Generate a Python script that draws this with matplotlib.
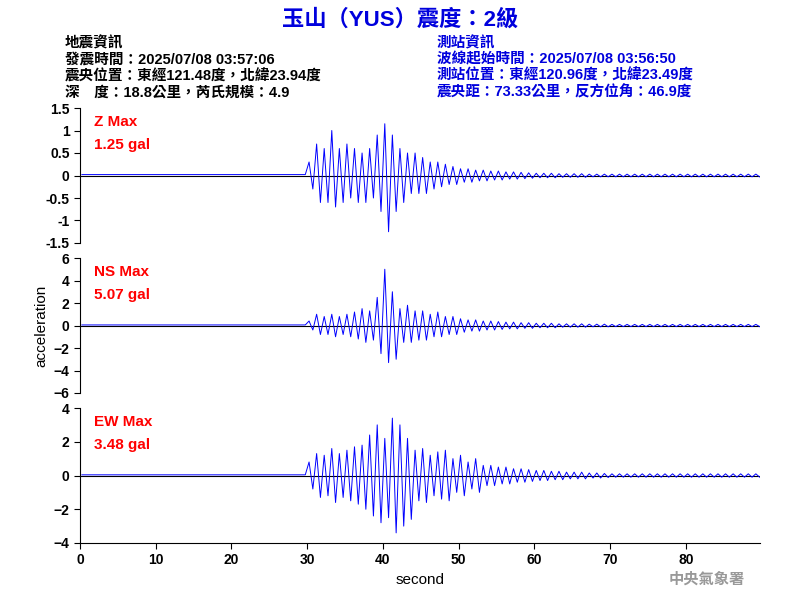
import matplotlib
matplotlib.use("Agg")
import matplotlib.pyplot as plt
import numpy as np

plt.rcParams['font.family'] = ['Liberation Sans', 'Noto Sans CJK TC', 'DejaVu Sans']
plt.rcParams['font.weight'] = 'bold'

# per-second envelope (max, min), seconds 0..89
pre = [0.02]*30
z_max = pre + [0.3,0.7,0.6,1.0,0.6,0.7,0.6,0.5,0.6,0.9,1.15,0.9,0.6,0.5,0.5,0.4,0.3,0.3,0.25,0.2,
               0.15,0.15,0.12,0.12,0.1,0.1,0.08,0.08,0.07,0.06,0.05,0.05,0.05,0.04,0.04,0.04,0.04,0.03,0.03,0.03] + [0.03]*20
z_min = pre + [-0.3,-0.6,-0.6,-0.7,-0.6,-0.5,-0.6,-0.6,-0.5,-0.8,-1.25,-0.8,-0.6,-0.4,-0.4,-0.4,-0.3,-0.25,-0.2,-0.2,
               -0.15,-0.15,-0.12,-0.12,-0.1,-0.1,-0.08,-0.08,-0.07,-0.06,-0.05,-0.05,-0.05,-0.04,-0.04,-0.04,-0.04,-0.03,-0.03,-0.03] + [-0.03]*20
pre2 = [0.05]*30
ns_max = pre2 + [0.4,1.0,0.8,1.0,0.8,1.0,1.2,1.5,1.3,2.5,5.0,3.0,1.5,1.8,1.3,1.3,1.0,1.2,0.8,0.8,
                 0.6,0.5,0.5,0.4,0.4,0.35,0.3,0.3,0.25,0.25,0.2,0.2,0.2,0.15,0.15,0.15,0.15,0.12,0.12,0.12] + [0.1]*20
ns_min = pre2 + [-0.4,-0.8,-0.8,-1.0,-0.8,-1.0,-1.2,-1.5,-1.3,-2.5,-3.3,-3.0,-1.5,-1.5,-1.3,-1.3,-1.0,-1.0,-0.8,-0.8,
                 -0.6,-0.5,-0.5,-0.4,-0.4,-0.35,-0.3,-0.3,-0.25,-0.25,-0.2,-0.2,-0.2,-0.15,-0.15,-0.15,-0.15,-0.12,-0.12,-0.12] + [-0.1]*20
pre3 = [0.04]*30
ew_max = pre3 + [0.8,1.3,1.2,1.6,1.3,1.5,1.7,1.8,2.4,3.0,2.2,3.4,3.0,2.2,1.5,1.6,1.2,1.4,1.5,1.0,
                 1.2,0.8,1.0,0.6,0.6,0.5,0.5,0.4,0.4,0.35,0.3,0.3,0.25,0.25,0.2,0.2,0.2,0.15,0.15,0.12] + [0.1]*20
ew_min = pre3 + [-0.8,-1.3,-1.2,-1.6,-1.3,-1.5,-1.7,-2.0,-2.4,-2.8,-2.5,-3.4,-3.0,-2.6,-1.5,-1.6,-1.2,-1.4,-1.5,-1.0,
                 -1.2,-0.8,-1.0,-0.6,-0.6,-0.5,-0.5,-0.4,-0.4,-0.35,-0.3,-0.3,-0.25,-0.25,-0.2,-0.2,-0.2,-0.15,-0.15,-0.12] + [-0.1]*20

panels = [("Z Max", "1.25 gal", z_max, z_min, (-1.5, 1.5), [-1.5,-1,-0.5,0,0.5,1,1.5], ['-1.5','-1','-0.5','0','0.5','1','1.5']),
          ("NS Max", "5.07 gal", ns_max, ns_min, (-6, 6), [-6,-4,-2,0,2,4,6], None),
          ("EW Max", "3.48 gal", ew_max, ew_min, (-4, 4), [-4,-2,0,2,4], None)]

fig = plt.figure(figsize=(8, 6), dpi=100)
tops = [108, 258, 408]
for i, (lab, val, mx, mn, yl, yt, ytl) in enumerate(panels):
    ax = fig.add_axes([80/800, 1-(tops[i]+135)/600, 680/800, 135/600])
    t = np.arange(len(mx))
    xs = np.empty(2*len(mx)); ys = np.empty(2*len(mx))
    xs[0::2] = t + 0.25; xs[1::2] = t + 0.75
    ys[0::2] = mx; ys[1::2] = mn
    ax.plot(xs, ys, color='blue', lw=0.7)
    ax.axhline(0, color='black', lw=0.8, zorder=0)
    ax.set_xlim(0, 89.8); ax.set_ylim(*yl)
    ax.set_yticks(yt)
    if ytl: ax.set_yticklabels(ytl)
    for s in ['top', 'right']:
        ax.spines[s].set_visible(False)
    ax.tick_params(labelsize=10, direction='out', length=4)
    ax.text(0.02, 0.95, lab, transform=ax.transAxes, color='red', fontsize=11, va='top')
    ax.text(0.02, 0.78, val, transform=ax.transAxes, color='red', fontsize=11, va='top')
    if i < 2:
        ax.spines['bottom'].set_visible(False)
        ax.set_xticks([])
    else:
        ax.set_xticks(range(0, 90, 10))
        ax.set_xlabel('second', fontsize=11)
    if i == 1:
        ax.set_ylabel('acceleration', fontsize=11)

fig.text(0.5, 0.985, '玉山（YUS）震度：2級', color='#0000dd', fontsize=16, fontweight='bold', ha='center', va='top')
left = ['地震資訊', '發震時間：2025/07/08 03:57:06', '震央位置：東經121.48度，北緯23.94度', '深　度：18.8公里，芮氏規模：4.9']
right = ['測站資訊', '波線起始時間：2025/07/08 03:56:50', '測站位置：東經120.96度，北緯23.49度', '震央距：73.33公里，反方位角：46.9度']
for k, (l, r) in enumerate(zip(left, right)):
    y = 1 - (36 + k*16.5)/600
    fig.text(65/800, y, l, fontsize=10.5, va='top', color='black')
    fig.text(437/800, y, r, fontsize=10.5, va='top', color='#0000dd')
fig.text(745/800, 1-572/600, '中央氣象署', fontsize=11, color='#999999', ha='right', va='top', fontweight='bold')
fig.savefig('out.png', dpi=100)
